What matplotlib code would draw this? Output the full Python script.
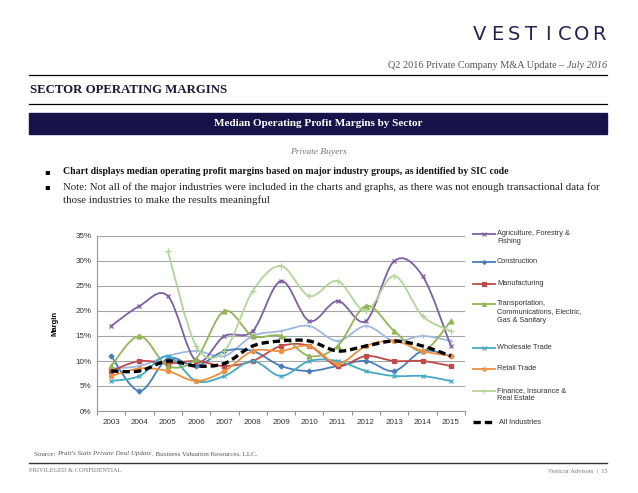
import numpy as np
import matplotlib
matplotlib.use("Agg")
import matplotlib.pyplot as plt
from matplotlib.path import Path
from matplotlib.patches import PathPatch, Rectangle
from matplotlib.lines import Line2D

W, H = 638, 493

years = [2003, 2004, 2005, 2006, 2007, 2008, 2009, 2010, 2011, 2012, 2013, 2014, 2015]

agriculture = [17, 21, 23, 10, 15, 16, 26, 18, 22, 18, 30, 27, 13]
construction = [11, 4, 10.5, 9, 12, 12, 9, 8, 9, 10, 8, 12, 11]
manufacturing = [8, 10, 9.5, 10, 9, 10, 13, 13, 9, 11, 10, 10, 9]
transportation = [9, 15, 9, 10.5, 20, 15, 15, 11, 13, 21, 16, 12, 18]
wholesale = [6, 7, 11, 6, 7, 10, 7, 10, 10, 8, 7, 7, 6]
retail = [7, 8.5, 8, 6, 8, 12, 12, 13, 9.5, 13, 14, 12, 11]
finance_years = years[2:]
finance = [32, 13, 12, 24, 29, 23, 26, 20, 27, 19, 16]
unlabeled = [8.5, 9, 11, 12, 11, 15, 16, 17, 14, 17, 14, 15, 14]
all_industries = [8, 8, 10, 9, 9.5, 13, 14, 14, 12, 13, 14, 13, 11]

yticks = [0, 5, 10, 15, 20, 25, 30, 35]

navy = "#15134a"
serif = "Liberation Serif"
sans = "Liberation Sans"


def px(x, y):
    return x / W, 1 - y / H


def smooth(ax, xs, ys, color, lw, **kw):
    # Excel style smoothed line, catmull-rom as bezier
    pts = np.column_stack([xs, ys]).astype(float)
    n = len(pts)
    verts = [tuple(pts[0])]
    codes = [Path.MOVETO]
    for i in range(n - 1):
        p0 = pts[i - 1] if i > 0 else pts[i]
        p1 = pts[i]
        p2 = pts[i + 1]
        p3 = pts[i + 2] if i + 2 < n else pts[i + 1]
        c1 = p1 + (p2 - p0) / 6
        c2 = p2 - (p3 - p1) / 6
        verts += [tuple(c1), tuple(c2), tuple(p2)]
        codes += [Path.CURVE4] * 3
    patch = PathPatch(Path(verts, codes), fill=False, edgecolor=color, lw=lw, **kw)
    ax.add_patch(patch)


fig = plt.figure(figsize=(W / 100, H / 100), dpi=100)
fig.patch.set_facecolor("white")
renderer = fig.canvas.get_renderer()


def chain(x, y, parts, size, color, align="left"):
    # parts: list of (text, style); lays pieces side by side in pixel units
    widths = []
    arts = []
    for s, st in parts:
        t = fig.text(0, 0, s, fontsize=size, family=serif, style=st, color=color,
                     ha="left", va="center")
        widths.append(t.get_window_extent(renderer).width)
        arts.append(t)
    if align == "right":
        x = x - sum(widths)
    for t, w in zip(arts, widths):
        t.set_position(px(x, y))
        x += w


# header
logo = "VESTICOR"
lx = np.linspace(480, 599, len(logo))
for ch, x in zip(logo, lx):
    fig.text(*px(x, 35), ch, ha="center", va="center", fontsize=14,
             family="DejaVu Sans", color="#24234f")
chain(607, 66, [("Q2 2016 Private Company M&A Update \u2013 ", "normal"),
                ("July 2016", "italic")], 7.4, "#555555", align="right")
fig.add_artist(Line2D([29 / W, 607 / W], [1 - 75 / H] * 2, color="black", lw=0.9))
fig.text(*px(30, 90), "SECTOR OPERATING MARGINS", ha="left", va="center",
         fontsize=9.2, family=serif, fontweight="bold", color="#1a1a3a")
fig.add_artist(Line2D([29 / W, 607 / W], [1 - 104 / H] * 2, color="black", lw=0.9))

fig.add_artist(Rectangle((29 / W, 1 - 134 / H), 578 / W, 21 / H, color=navy,
                         transform=fig.transFigure))
fig.text(*px(318, 124), "Median Operating Profit Margins by Sector", ha="center", va="center",
         fontsize=8, family=serif, fontweight="bold", color="white")
fig.text(*px(318, 152), "Private Buyers", ha="center", va="center", fontsize=6.8,
         family=serif, style="italic", color="#777777")

fig.text(*px(47, 172), "\u25aa", ha="center", va="center", fontsize=6, family="DejaVu Sans")
fig.text(*px(63, 172), "Chart displays median operating profit margins based on major industry groups, "
         "as identified by SIC code", ha="left", va="center", fontsize=7.0, family=serif,
         fontweight="bold", color="#111111")
fig.text(*px(47, 187), "\u25aa", ha="center", va="center", fontsize=6, family="DejaVu Sans")
fig.text(*px(63, 187), "Note: Not all of the major industries were included in the charts and graphs, "
         "as there was not enough transactional data for", ha="left", va="center", fontsize=7.8,
         family=serif, color="#222222")
fig.text(*px(63, 200), "those industries to make the results meaningful", ha="left", va="center",
         fontsize=7.8, family=serif, color="#222222")

# chart
ax = fig.add_axes([97 / W, 1 - 411 / H, (465 - 97) / W, 175 / H])
ax.set_xlim(years[0] - 0.5, years[-1] + 0.5)
ax.set_ylim(0, 35)
ax.set_yticks(yticks)
ax.set_yticklabels([f"{v}%" for v in yticks])
ax.set_xticks(years)
ax.set_xticklabels([str(y) for y in years])
ax.set_xticks(np.arange(years[0] - 0.5, years[-1] + 1, 1), minor=True)
ax.tick_params(axis="x", which="major", length=0, pad=6, labelsize=5.8, labelcolor="#333333")
ax.tick_params(axis="x", which="minor", length=3, color="#888888", width=0.7)
ax.tick_params(axis="y", length=0, pad=4, labelsize=5.8, labelcolor="#333333")
for lab in ax.get_xticklabels() + ax.get_yticklabels():
    lab.set_family(sans)
ax.grid(axis="y", color="#a6a6a6", lw=0.8)
ax.set_axisbelow(True)
for s in ["top", "right"]:
    ax.spines[s].set_visible(False)
ax.spines["left"].set_color("#999999")
ax.spines["bottom"].set_color("#999999")
ax.spines["left"].set_linewidth(0.8)
ax.spines["bottom"].set_linewidth(0.8)
ax.set_ylabel("Margin", fontsize=5.5, family=sans, fontweight="bold", labelpad=12)

series = [
    ("Agriculture, Forestry &\nFishing", years, agriculture, "#7d5fa5", "x", 3.5),
    ("Construction", years, construction, "#4a7ebb", "D", 2.5),
    ("Manufacturing", years, manufacturing, "#be4b48", "s", 3),
    ("Transportation,\nCommunications, Electric,\nGas & Sanitary", years, transportation,
     "#92b557", "^", 3.5),
    ("Wholesale Trade", years, wholesale, "#46a9c4", "x", 3.5),
    ("Retail Trade", years, retail, "#ef8f3f", "o", 3),
    ("Finance, Insurance &\nReal Estate", finance_years, finance, "#b3d59a", "+", 4),
]

smooth(ax, years, unlabeled, "#9fb9de", 1.3, zorder=2)
ax.plot(years, unlabeled, "+", color="#9fb9de", ms=3, mew=0.8, zorder=2)
for label, xs, ys, c, m, ms in series:
    smooth(ax, xs, ys, c, 1.3, zorder=3)
    ax.plot(xs, ys, m, color=c, ms=ms, mew=0.9, zorder=4)
smooth(ax, years, all_industries, "black", 2.4, linestyle=(0, (2.2, 1.2)), zorder=5)

# legend drawn by hand
legend_y = [234, 262, 284, 304, 348, 369, 391]
for (label, xs, ys, c, m, ms), y in zip(series, legend_y):
    fy = 1 - y / H
    fig.add_artist(Line2D([473 / W, 495 / W], [fy, fy], color=c, lw=1.3))
    fig.add_artist(Line2D([484 / W], [fy], marker=m, color=c, ms=ms * 0.8, mew=0.8))
    fig.text(497 / W, fy + 4 / H, label, ha="left", va="top", fontsize=5.3, family=sans,
             color="#333333", linespacing=1.25)
fy = 1 - 422 / H
fig.add_artist(Line2D([473 / W, 495 / W], [fy, fy], color="black", lw=2.4,
                      linestyle=(0, (2.2, 1.2))))
fig.text(499 / W, fy, "All Industries", ha="left", va="center", fontsize=5.3, family=sans,
         color="#333333")

# footer
chain(34, 454, [("Source: ", "normal"), ("Pratt's Stats Private Deal Update", "italic"),
                (". Business Valuation Resources, LLC.", "normal")], 5.0, "#555555")
fig.add_artist(Line2D([29 / W, 607 / W], [1 - 463 / H] * 2, color="#333333", lw=1.0))
fig.text(*px(29, 471), "PRIVILEGED & CONFIDENTIAL", ha="left", va="center", fontsize=4.6,
         family=serif, color="#777777")
fig.text(*px(607, 471), "Vesticor Advisors  |  15", ha="right", va="center", fontsize=4.6,
         family=serif, color="#777777")

fig.savefig("out.png", dpi=100)
